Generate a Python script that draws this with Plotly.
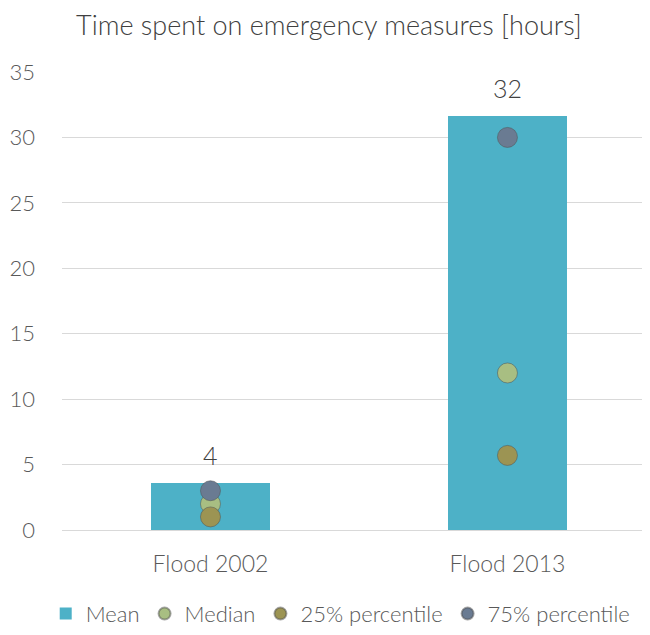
import plotly.graph_objects as go

categories = ["Flood 2002", "Flood 2013"]
mean_vals = [3.6, 31.6]
median_vals = [2.0, 12.0]
p25_vals = [1.0, 5.7]
p75_vals = [3.0, 30.0]

FONT = "Lato, 'Open Sans', sans-serif"

fig = go.Figure()
fig.add_trace(go.Bar(
    x=categories, y=mean_vals, name="Mean", width=0.40,
    marker=dict(color="#4DB1C7", line=dict(width=0)),
))
for name, vals, col in [("Median", median_vals, "#A8BE82"),
                        ("25% percentile", p25_vals, "#9C9453"),
                        ("75% percentile", p75_vals, "#6A7B92")]:
    fig.add_trace(go.Scatter(
        x=categories, y=vals, name=name, mode="markers",
        marker=dict(size=20, color=col, line=dict(width=1, color="rgba(80,80,80,0.5)")),
    ))

for c, v in zip(categories, mean_vals):
    fig.add_annotation(x=c, y=v, text=f"{v:.0f}", showarrow=False,
                       yanchor="middle", yshift=28,
                       font=dict(size=25, color="#404040", family=FONT, weight=300))

fig.update_layout(
    width=642, height=627,
    margin=dict(l=54, r=0, t=64, b=105),
    paper_bgcolor="white", plot_bgcolor="white",
    font=dict(family=FONT, color="#595959", size=22, weight=300),
    title=dict(text="Time spent on emergency measures [hours]", x=0.5, xanchor="center",
               y=0.972, yanchor="middle",
               font=dict(size=27, color="#404040", family=FONT, weight=300)),
    showlegend=True,
    legend=dict(orientation="h", x=0.474, xanchor="center", y=-0.183, yanchor="middle",
                font=dict(size=22, color="#595959", weight=300), itemsizing="constant",
                itemwidth=30, tracegroupgap=0),
    bargap=0,
)
fig.update_xaxes(range=[-0.5, 1.48], showline=False, ticks="", showgrid=False,
                 ticklabelstandoff=18,
                 tickfont=dict(size=23, color="#595959", weight=300))
fig.update_yaxes(range=[0, 35], dtick=5, showgrid=True, gridcolor="#D9D9D9", gridwidth=1,
                 zeroline=True, zerolinecolor="#D9D9D9", zerolinewidth=1,
                 showline=False, ticks="", ticklabelstandoff=26,
                 tickfont=dict(size=22, color="#595959", weight=300))

fig.write_html("out.html")
